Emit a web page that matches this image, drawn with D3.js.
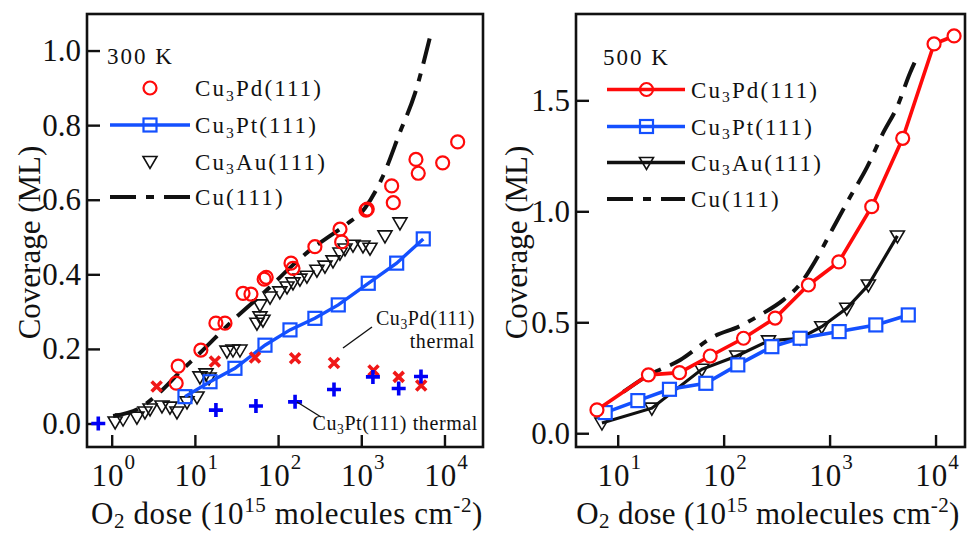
<!DOCTYPE html>
<html>
<head>
<meta charset="utf-8">
<script src="https://cdn.jsdelivr.net/npm/d3@7"></script>
<style>
  body { margin: 0; background: #fff; }
  svg { display: block; }
  text { font-family: "Liberation Serif", "Times New Roman", serif; fill: #111; }
</style>
</head>
<body>
<div id="chart"></div>
<script>
// dose in 1e15 molecules cm^-2, coverage in ML

// ---- 300 K ----
var pd300 = [[5.96,0.108],[6.3,0.154],[11.8,0.197],[17.9,0.269],[23,0.269],[37.9,0.349],[47.2,0.347],
  [68,0.387],[72,0.392],[143,0.43],[151,0.416],[277,0.474],[555,0.521],[581,0.487],[1140,0.572],
  [1180,0.575],[2318,0.637],[2425,0.592],[4540,0.708],[4840,0.671],[9510,0.699],[14400,0.755]];
var pt300 = [[7.6,0.072],[15.2,0.112],[30.3,0.148],[69.6,0.21],[139,0.251],[277,0.282],[529,0.318],
  [1213,0.376],[2663,0.43],[5560,0.495]];
var au300 = [[1.1,0.004],[1.37,0.012],[2.01,0.017],[2.51,0.031],[2.89,0.039],[4.02,0.047],[5.02,0.044],
  [6.09,0.031],[8.04,0.058],[10.6,0.071],[11.5,0.125],[13.6,0.133],[14.8,0.122],[24.3,0.194],[28.7,0.197],
  [34.8,0.197],[55.7,0.269],[60.6,0.286],[65.8,0.277],[60.6,0.318],[80,0.339],[105,0.353],[128,0.366],
  [151,0.377],[183,0.387],[222,0.395],[293,0.411],[366,0.422],[457,0.436],[554,0.457],[637,0.468],
  [795,0.478],[1048,0.476],[1273,0.47],[1927,0.503],[2917,0.538]];
var cu300 = [[1.04,0.02],[2.19,0.042],[3.8,0.084],[6.6,0.138],[11.5,0.189],[28.7,0.277],[80,0.366],
  [128,0.41],[243,0.465],[421,0.503],[673,0.535],[1110,0.578],[1820,0.663],[2917,0.781],[4420,0.885],[6700,1.036]];
var pdThermal = [[3.47,0.099],[17.4,0.166],[52.8,0.177],[160,0.175],[470,0.162],[1403,0.142],[2816,0.125],[5250,0.102]];
var ptThermal = [[0.69,0.0],[17.9,0.036],[54.2,0.047],[160,0.058],[470,0.091],[1380,0.125],[2816,0.094],[5220,0.126]];

// ---- 500 K ----
var pd500 = [[6.37,0.105],[19.5,0.263],[38.3,0.273],[74.6,0.348],[154,0.428],[306,0.519],[631,0.668],
  [1222,0.772],[2500,1.021],[4900,1.329],[9680,1.754],[14960,1.79]];
var pt500 = [[7.62,0.093],[15.5,0.147],[30.8,0.198],[67.9,0.225],[136,0.308],[285,0.39],[527,0.428],
  [1230,0.458],[2730,0.488],[5530,0.533]];
var au500 = [[7.1,0.046],[21,0.113],[62.2,0.288],[133,0.348],[265,0.416],[527,0.428],[843,0.48],
  [1452,0.563],[2323,0.668],[4365,0.889]];
var cu500 = [[11.3,0.186],[19,0.258],[38.9,0.33],[79.4,0.434],[143,0.483],[221,0.533],[364,0.6],[527,0.672],
  [730,0.775],[1079,0.925],[1560,1.064],[2258,1.199],[3200,1.353],[4335,1.47],[5740,1.623],[6840,1.704]];

// ticks and labels
var doseTicksL = [1, 10, 100, 1000, 10000];
var doseTicksR = [10, 100, 1000, 10000];
var covTicksL = [0, 0.2, 0.4, 0.6, 0.8, 1.0];
var covTicksR = [0, 0.5, 1.0, 1.5];
var legendNames = [[["Cu"],["3","sub"],["Pd(111)"]], [["Cu"],["3","sub"],["Pt(111)"]],
                   [["Cu"],["3","sub"],["Au(111)"]], [["Cu(111)"]]];
var xTitle = [["O"],["2","sub"],[" dose (10"],["15","sup"],[" molecules cm"],["-2","sup"],[")"]];

var RED = "#ff0a0a", BLUE = "#1450ff", PBLUE = "#0000f5", XRED = "#f01818";

var svg = d3.select("#chart").append("svg").attr("width", 967).attr("height", 534);
svg.append("rect").attr("width", 967).attr("height", 534).attr("fill", "#fff");

// text with sub/superscript pieces
function rich(txt, parts, size, supUp, subDown) {
  var cur = 0;
  parts.forEach(function(p) {
    var target = 0, fs = size;
    if (p[1] == "sub") { target = size * (subDown || 0.2); fs = size * 0.68; }
    if (p[1] == "sup") { target = -size * (supUp || 0.55); fs = size * 0.68; }
    txt.append("tspan").attr("dy", target - cur).attr("font-size", fs).text(p[0]);
    cur = target;
  });
  return txt;
}

var triPath = "M-7,-5L7,-5L0,7Z";

function circles(g, data, x, y, fill) {
  g.selectAll(null).data(data).enter().append("circle")
    .attr("cx", function(d){ return x(d[0]); }).attr("cy", function(d){ return y(d[1]); })
    .attr("r", 6.5).attr("fill", fill).attr("stroke", RED).attr("stroke-width", 2.2);
}
function squares(g, data, x, y, fill) {
  g.selectAll(null).data(data).enter().append("rect")
    .attr("x", function(d){ return x(d[0]) - 6.5; }).attr("y", function(d){ return y(d[1]) - 6.5; })
    .attr("width", 13).attr("height", 13).attr("fill", fill).attr("stroke", BLUE).attr("stroke-width", 2.2);
}
function triangles(g, data, x, y) {
  g.selectAll(null).data(data).enter().append("path")
    .attr("transform", function(d){ return "translate(" + x(d[0]) + "," + y(d[1]) + ")"; })
    .attr("d", triPath).attr("fill", "none").attr("stroke", "#111").attr("stroke-width", 1.6);
}
function line(g, data, x, y, color, w, dash, curve) {
  g.append("path").datum(data)
    .attr("fill", "none").attr("stroke", color).attr("stroke-width", w)
    .attr("stroke-dasharray", dash || null)
    .attr("d", d3.line().curve(curve || d3.curveLinear)
      .x(function(d){ return x(d[0]); }).y(function(d){ return y(d[1]); }));
}
var CUDASH = "26,10,8,10";

function frame(p) {
  var g = svg.append("g");
  var x = d3.scaleLog().domain(p.xd).range([p.left, p.right]);
  var y = d3.scaleLinear().domain(p.yd).range([p.bottom, p.top]);
  g.append("g").attr("transform", "translate(" + p.left + ",0)")
    .call(d3.axisLeft(y).tickValues(p.yt).tickSizeInner(-13).tickSizeOuter(0).tickPadding(6).tickFormat(d3.format(".1f")))
    .call(function(a){ a.select(".domain").remove(); a.selectAll("line").attr("stroke", "#111").attr("stroke-width", 2.4);
      a.selectAll("text").attr("font-size", 31).attr("font-family", "Liberation Serif").attr("fill", "#111"); });
  g.append("g").attr("transform", "translate(0," + p.bottom + ")")
    .call(d3.axisBottom(x).tickValues(p.xt).tickSizeInner(-12).tickSizeOuter(0).tickFormat(""))
    .call(function(a){ a.select(".domain").remove(); a.selectAll("line").attr("stroke", "#111").attr("stroke-width", 2.4); });
  p.xt.forEach(function(v) {
    rich(g.append("text").attr("x", x(v) + 2).attr("y", 486).attr("text-anchor", "middle").attr("font-size", 31).attr("letter-spacing", 1),
      [["10"], [String(Math.round(Math.log10(v))), "sup"]], 31);
  });
  g.append("rect").attr("x", p.left).attr("y", p.top).attr("width", p.right - p.left).attr("height", p.bottom - p.top)
    .attr("fill", "none").attr("stroke", "#111").attr("stroke-width", 2.6);
  g.append("text").attr("transform", "translate(" + p.ylab + "," + ((p.top + p.bottom) / 2 + 12) + ") rotate(-90)")
    .attr("text-anchor", "middle").attr("font-size", 31).text("Coverage (ML)");
  rich(g.append("text").attr("x", p.xlab).attr("y", 524).attr("text-anchor", "middle")
    .attr("font-size", 31).attr("letter-spacing", p.xls), xTitle, 31, 0.38, 0.12);
  return {g: g, x: x, y: y};
}

// ---------- left panel, 300 K ----------
var L = frame({left: 87, right: 483, top: 14, bottom: 447, xd: [0.505, 29040], yd: [-0.063, 1.098],
  xt: doseTicksL, yt: covTicksL, ylab: 40, xlab: 287, xls: 0.6});
line(L.g, cu300, L.x, L.y, "#111", 4, CUDASH, d3.curveMonotoneX);
triangles(L.g, au300, L.x, L.y);
circles(L.g, pd300, L.x, L.y, "none");
line(L.g, pt300, L.x, L.y, BLUE, 3.4);
squares(L.g, pt300, L.x, L.y, "none");
L.g.selectAll(null).data(pdThermal).enter().append("path")
  .attr("transform", function(d){ return "translate(" + L.x(d[0]) + "," + L.y(d[1]) + ")"; })
  .attr("d", "M-5,-5L5,5M-5,5L5,-5").attr("stroke", XRED).attr("stroke-width", 3.6);
L.g.selectAll(null).data(ptThermal).enter().append("path")
  .attr("transform", function(d){ return "translate(" + L.x(d[0]) + "," + L.y(d[1]) + ")"; })
  .attr("d", "M-7,0L7,0M0,-7L0,7").attr("stroke", PBLUE).attr("stroke-width", 3.6);

// annotations
rich(L.g.append("text").attr("x", 475).attr("y", 325).attr("text-anchor", "end").attr("font-size", 20).attr("letter-spacing", 0.6),
  legendNames[0], 20);
L.g.append("text").attr("x", 475).attr("y", 348).attr("text-anchor", "end").attr("font-size", 20).attr("letter-spacing", 0.6).text("thermal");
L.g.append("line").attr("x1", 372).attr("y1", 327).attr("x2", 343).attr("y2", 348).attr("stroke", "#111").attr("stroke-width", 1.4);
rich(L.g.append("text").attr("x", 478).attr("y", 430).attr("text-anchor", "end").attr("font-size", 20).attr("letter-spacing", 0.6),
  [["Cu"],["3","sub"],["Pt(111) thermal"]], 20);
L.g.append("line").attr("x1", 297).attr("y1", 402).attr("x2", 321).attr("y2", 417).attr("stroke", "#111").attr("stroke-width", 1.4);

// legend 300 K
L.g.append("text").attr("x", 107).attr("y", 64).attr("font-size", 23).attr("letter-spacing", 2).text("300 K");
var legY = [88, 125, 161.5, 197];
legendNames.forEach(function(n, i) {
  rich(L.g.append("text").attr("x", 195).attr("y", legY[i] + 8).attr("font-size", 23).attr("letter-spacing", 2.1), n, 23);
});
L.g.append("circle").attr("cx", 150).attr("cy", legY[0]).attr("r", 6.5).attr("fill", "none").attr("stroke", RED).attr("stroke-width", 2.2);
L.g.append("line").attr("x1", 110).attr("x2", 190).attr("y1", legY[1]).attr("y2", legY[1]).attr("stroke", BLUE).attr("stroke-width", 3.4);
L.g.append("rect").attr("x", 143.5).attr("y", legY[1] - 6.5).attr("width", 13).attr("height", 13).attr("fill", "none").attr("stroke", BLUE).attr("stroke-width", 2.2);
L.g.append("path").attr("transform", "translate(150," + legY[2] + ")").attr("d", triPath).attr("fill", "none").attr("stroke", "#111").attr("stroke-width", 1.6);
L.g.append("line").attr("x1", 110).attr("x2", 190).attr("y1", legY[3]).attr("y2", legY[3]).attr("stroke", "#111").attr("stroke-width", 4).attr("stroke-dasharray", CUDASH);

// ---------- right panel, 500 K ----------
var R = frame({left: 576, right: 965, top: 14, bottom: 447, xd: [4.04, 18970], yd: [-0.062, 1.889],
  xt: doseTicksR, yt: covTicksR, ylab: 527, xlab: 768, xls: 0.3});
line(R.g, cu500, R.x, R.y, "#111", 4, CUDASH, d3.curveMonotoneX);
line(R.g, au500, R.x, R.y, "#111", 3.2);
triangles(R.g, au500, R.x, R.y);
line(R.g, pt500, R.x, R.y, BLUE, 3.6);
squares(R.g, pt500, R.x, R.y, "#fff");
line(R.g, pd500, R.x, R.y, RED, 3.6);
circles(R.g, pd500, R.x, R.y, "#fff");

// legend 500 K
R.g.append("text").attr("x", 603).attr("y", 65).attr("font-size", 23).attr("letter-spacing", 2).text("500 K");
var legYR = [89.5, 126.5, 162.5, 199];
legendNames.forEach(function(n, i) {
  rich(R.g.append("text").attr("x", 691).attr("y", legYR[i] + 8).attr("font-size", 23).attr("letter-spacing", 2.1), n, 23);
});
var legColors = [RED, BLUE, "#111", "#111"];
R.g.append("circle").attr("cx", 646.5).attr("cy", legYR[0]).attr("r", 6.5).attr("fill", "none").attr("stroke", RED).attr("stroke-width", 2.2);
R.g.append("rect").attr("x", 640).attr("y", legYR[1] - 6.5).attr("width", 13).attr("height", 13).attr("fill", "none").attr("stroke", BLUE).attr("stroke-width", 2.2);
R.g.append("path").attr("transform", "translate(646.5," + legYR[2] + ")").attr("d", triPath).attr("fill", "none").attr("stroke", "#111").attr("stroke-width", 1.6);
legYR.forEach(function(yy, i) {
  R.g.append("line").attr("x1", 607).attr("x2", 685).attr("y1", yy).attr("y2", yy).attr("stroke", legColors[i])
    .attr("stroke-width", i == 3 ? 4 : 3.6).attr("stroke-dasharray", i == 3 ? CUDASH : null);
});
</script>
</body>
</html>
